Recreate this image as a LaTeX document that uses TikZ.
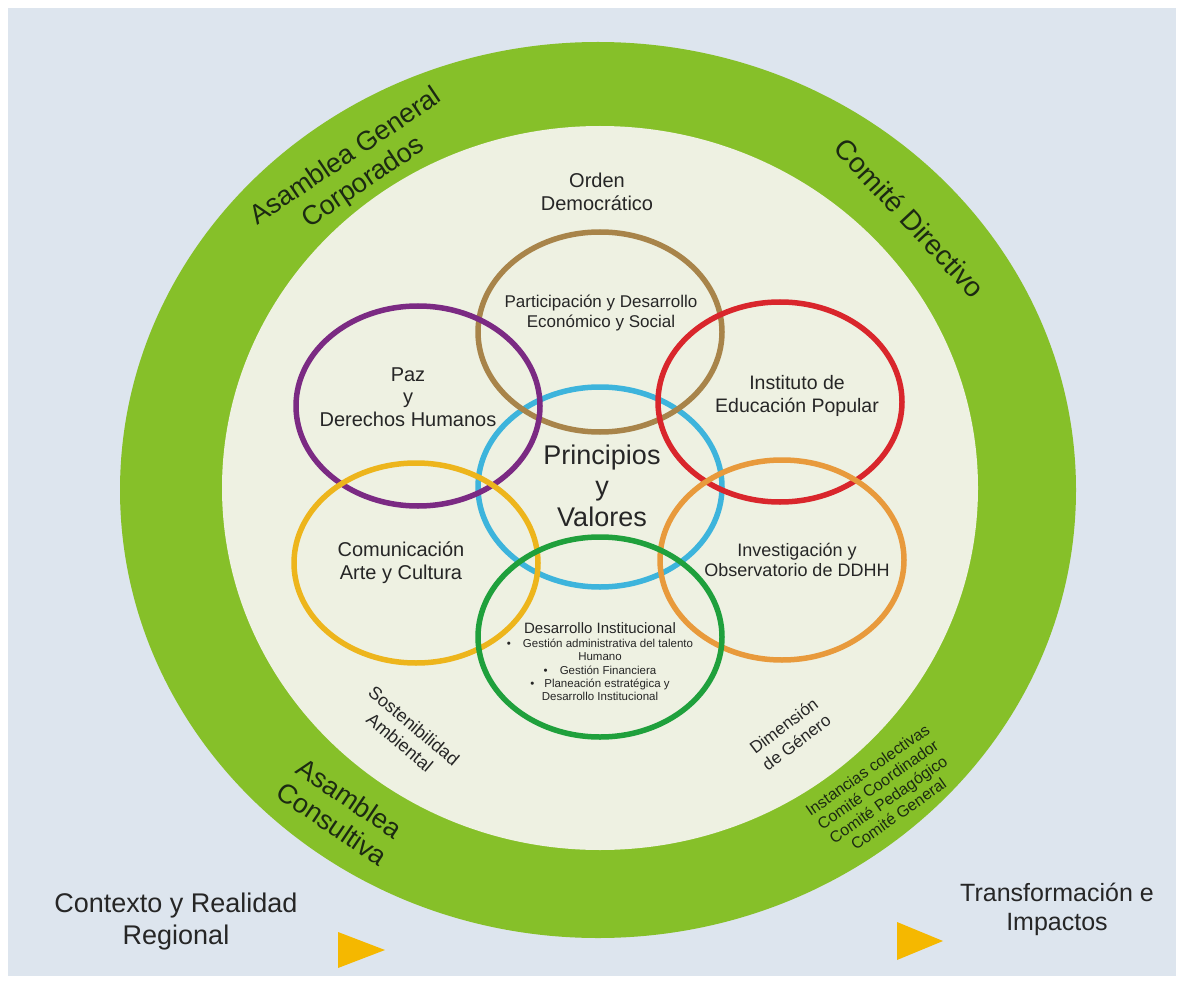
\documentclass[tikz,border=0pt]{standalone}
\usepackage{fontspec}
\setmainfont{Liberation Sans}
\definecolor{bg}{HTML}{DDE5EE}
\definecolor{ringgreen}{HTML}{86C029}
\definecolor{cream}{HTML}{EEF1E2}
\definecolor{cbrown}{HTML}{A8844A}
\definecolor{cpurple}{HTML}{7B2A83}
\definecolor{cred}{HTML}{D9262C}
\definecolor{ccyan}{HTML}{3DB4DC}
\definecolor{cyellow}{HTML}{EDB51C}
\definecolor{corange}{HTML}{E89A3C}
\definecolor{cgreen}{HTML}{1FA03C}
\definecolor{tri}{HTML}{F5B800}
\definecolor{txt}{HTML}{262626}
\definecolor{ringtxt}{HTML}{1C2A12}
\begin{document}
\begin{tikzpicture}[x=1pt,y=-1pt,
  loop/.style={line width=5.5pt},
  lab/.style={text=txt, align=center, inner sep=0pt},
  ringlab/.style={text=ringtxt, align=center, inner sep=0pt}]
\useasboundingbox (0,0) rectangle (1183,984);
\fill[white] (0,0) rectangle (1183,984);
\fill[bg] (8,8) rectangle (1176,976);
% rings
\fill[ringgreen] (598,490) ellipse [x radius=478pt, y radius=448pt];
\fill[cream] (600,488) ellipse [x radius=378pt, y radius=362pt];
% loops
\draw[loop, ccyan]   (600,487) ellipse [x radius=122pt, y radius=100pt];
\draw[loop, cbrown]  (600,332) ellipse [x radius=122pt, y radius=100pt];
\draw[loop, cpurple] (418,406) ellipse [x radius=122pt, y radius=100pt];
\draw[loop, cred]    (780,402) ellipse [x radius=122pt, y radius=100pt];
\draw[loop, cyellow] (416,563) ellipse [x radius=122pt, y radius=100pt];
\draw[loop, corange] (782,560) ellipse [x radius=122pt, y radius=100pt];
\draw[loop, cgreen]  (600,637) ellipse [x radius=122pt, y radius=100pt];
% ring labels
\node[ringlab, rotate=34, font=\fontsize{27}{31}\selectfont] (agc) at (355,170) {Asamblea General\\Corporados};
\node[ringlab, rotate=-47, font=\fontsize{28}{31}\selectfont] (cd) at (910,218) {Comité Directivo};
\node[ringlab, rotate=-34, font=\fontsize{27}{31}\selectfont] (ac) at (341,811) {Asamblea\\Consultiva};
\node[ringlab, rotate=35, font=\fontsize{16}{18}\selectfont] (ic) at (883,792) {Instancias colectivas\\Comité Coordinador\\Comité Pedagógico\\Comité General};
% inner labels
\node[lab, font=\fontsize{20}{23}\selectfont] (od) at (597,192) {Orden\\Democrático};
\node[lab, rotate=-40, font=\fontsize{18}{22}\selectfont] (sa) at (407,734) {Sostenibilidad\\Ambiental};
\node[lab, rotate=37, font=\fontsize{17}{21}\selectfont] (dg) at (790,734) {Dimensión\\de Género};
\node[lab, font=\fontsize{17}{20}\selectfont] (pd) at (601,313) {Participación y Desarrollo\\Económico y Social};
\node[lab, font=\fontsize{20}{22.5}\selectfont] (paz) at (408,397) {Paz\\y\\Derechos Humanos};
\node[lab, font=\fontsize{19.5}{23}\selectfont] (iep) at (797,396) {Instituto de\\Educación Popular};
\node[lab, font=\fontsize{27}{31}\selectfont] (pv) at (602,486) {Principios\\y\\Valores};
\node[lab, font=\fontsize{20}{23}\selectfont] (cac) at (401,563) {Comunicación\\Arte y Cultura};
\node[lab, font=\fontsize{18}{20}\selectfont] (io) at (797,560) {Investigación y\\Observatorio de DDHH};
\node[lab, font=\fontsize{15}{17}\selectfont] (di) at (600,628) {Desarrollo Institucional};
\node[lab, font=\fontsize{11.5}{13.3}\selectfont] (dil) at (600,670) {\textbullet\hspace{12pt}Gestión administrativa del talento\\Humano\\\textbullet\hspace{12pt}Gestión Financiera\\\textbullet\hspace{10pt}Planeación estratégica y\\Desarrollo Institucional};
% bottom labels
\node[lab, font=\fontsize{27}{32}\selectfont] (crr) at (176,922) {Contexto y Realidad\\Regional};
\node[lab, font=\fontsize{25}{29}\selectfont] (ti) at (1057,909) {Transformación e\\Impactos};
% triangles
\fill[tri] (338,932) -- (385,950) -- (338,968) -- cycle;
\fill[tri] (897,922) -- (943,941) -- (897,960) -- cycle;
\end{tikzpicture}
\end{document}
